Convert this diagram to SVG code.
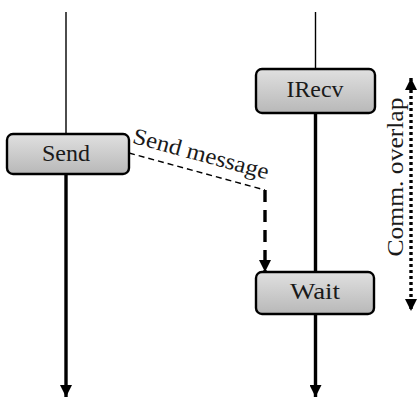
<svg xmlns="http://www.w3.org/2000/svg" width="419" height="399" viewBox="0 0 419 399">
<style>
.box{fill:url(#g);stroke:#000;stroke-width:2.4}
.lbl{font-family:"Liberation Serif","DejaVu Serif",serif;font-size:23px;fill:#1a1a1a;text-anchor:middle}
.thin{stroke:#000;stroke-width:1.4;fill:none}
.thick{stroke:#000;stroke-width:3.4;fill:none}
</style>
<defs>
<linearGradient id="g" x1="0" y1="0" x2="0" y2="1">
<stop offset="0" stop-color="#e0e0e0"/>
<stop offset="1" stop-color="#b8b8b8"/>
</linearGradient>
<marker id="ah" viewBox="0 0 10 10" refX="10" refY="5" markerWidth="12" markerHeight="12" markerUnits="userSpaceOnUse" orient="auto">
<path d="M0,0 L10,5 L0,10 Z" fill="#000"/>
</marker>
<marker id="ahs" viewBox="0 0 10 10" refX="0" refY="5" markerWidth="12" markerHeight="12" markerUnits="userSpaceOnUse" orient="auto">
<path d="M0,5 L10,0 L10,10 Z" fill="#000"/>
</marker>
</defs>
<g id="connectors">
<line class="thin" x1="66" y1="12" x2="66" y2="134"/>
<line class="thick" x1="66" y1="174" x2="66" y2="397" marker-end="url(#ah)"/>
<line class="thin" x1="315.5" y1="12" x2="315.5" y2="69"/>
<line class="thick" x1="315.5" y1="113" x2="315.5" y2="272"/>
<line class="thick" x1="315.5" y1="314" x2="315.5" y2="397" marker-end="url(#ah)"/>
<path class="thin" d="M129,153 L265,190" stroke-dasharray="6,4"/>
<path class="thick" d="M265,190 L265,272" stroke-dasharray="12,8" marker-end="url(#ah)"/>
<text class="lbl" transform="translate(199,161) rotate(15.2)" textLength="140" lengthAdjust="spacingAndGlyphs">Send message</text>
<line x1="411" y1="78" x2="411" y2="311" stroke="#000" stroke-width="3.4" stroke-dasharray="3,3" marker-start="url(#ahs)" marker-end="url(#ah)"/>
<text class="lbl" transform="translate(403,177) rotate(-90)" textLength="159" lengthAdjust="spacingAndGlyphs">Comm. overlap</text>
</g>
<g id="send">
<rect class="box" x="7" y="134" width="122" height="40" rx="6"/>
<text class="lbl" x="66" y="161" textLength="48" lengthAdjust="spacingAndGlyphs">Send</text>
</g>
<g id="irecv">
<rect class="box" x="256" y="69" width="119" height="44" rx="6"/>
<text class="lbl" x="315" y="97" textLength="57" lengthAdjust="spacingAndGlyphs">IRecv</text>
</g>
<g id="wait">
<rect class="box" x="256" y="272" width="118" height="42" rx="6"/>
<text class="lbl" x="315" y="299" textLength="50" lengthAdjust="spacingAndGlyphs">Wait</text>
</g>
</svg>
